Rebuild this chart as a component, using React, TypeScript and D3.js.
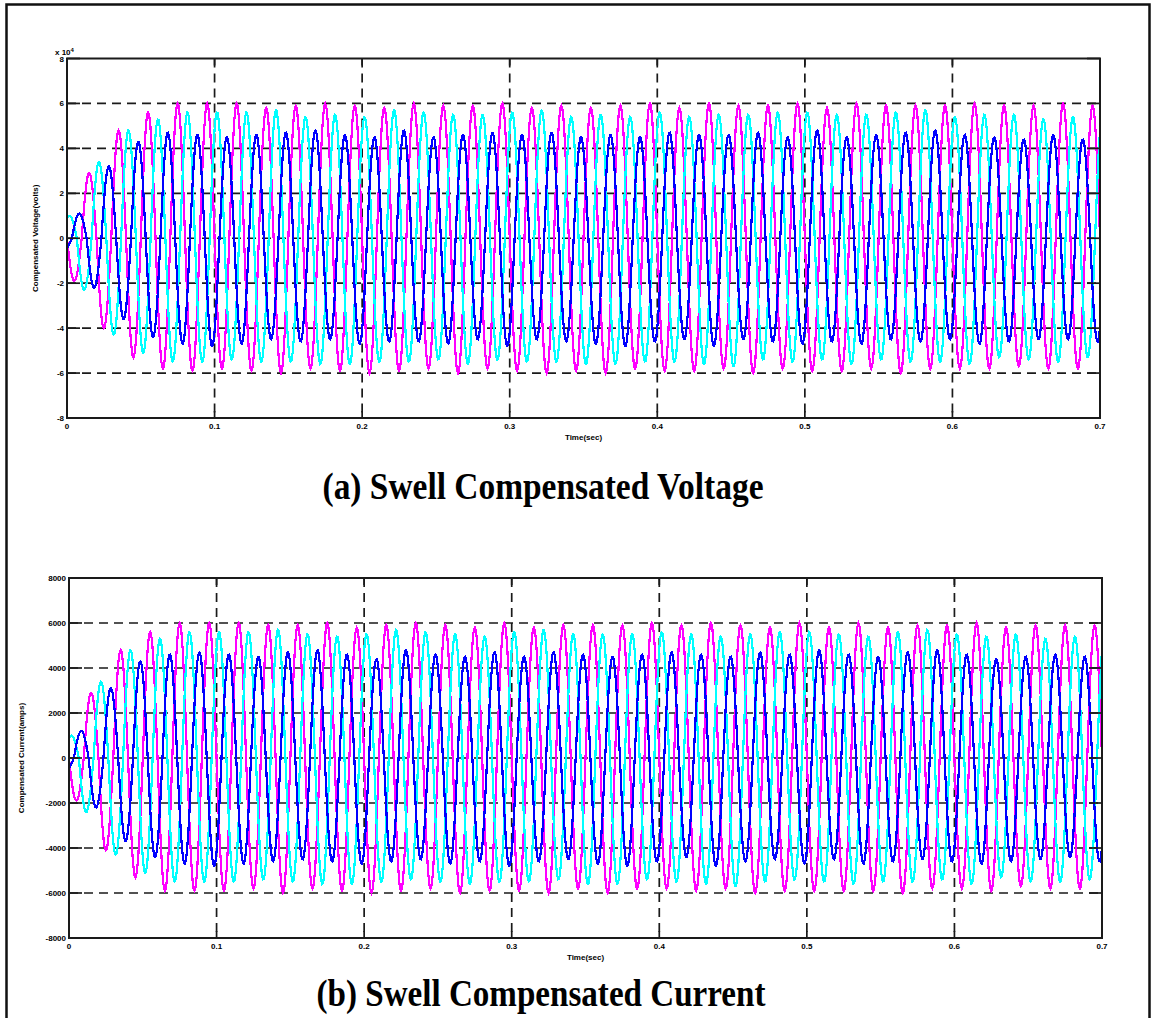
import React from "react";
import * as d3 from "d3";

// time axis (s)
const xTicks = [0, 0.1, 0.2, 0.3, 0.4, 0.5, 0.6, 0.7];
const xTickLabels = ["0", "0.1", "0.2", "0.3", "0.4", "0.5", "0.6", "0.7"];

// voltage axis (x 10^4 V)
const vTicks = [-8, -6, -4, -2, 0, 2, 4, 6, 8];
const vTickLabels = ["-8", "-6", "-4", "-2", "0", "2", "4", "6", "8"];

// current axis (A)
const iTicks = [-8000, -6000, -4000, -2000, 0, 2000, 4000, 6000, 8000];
const iTickLabels = ["-8000", "-6000", "-4000", "-2000", "0", "2000", "4000", "6000", "8000"];

// supply frequency and simulation sample rate
const freq = 50;
const sampleRate = 2000;
const tEnd = 0.7;

// peak value of each half-cycle (x 10^4 V)
const voltMagenta = [1.9, 2.9, 4.0, 4.8, 5.3, 5.6, 5.8, 6.0, 5.9, 6.0, 5.8, 6.0, 5.9, 5.8, 6.0, 5.9, 5.8, 6.0, 5.9, 5.9, 6.0, 5.8, 5.9, 6.0, 5.8, 5.9, 6.0, 5.9, 5.8, 6.0, 5.9, 5.8, 6.0, 5.9, 5.9, 5.8, 6.0, 5.9, 5.8, 6.0, 5.9, 5.8, 5.9, 6.0, 5.8, 5.9, 6.0, 5.9, 5.8, 6.0, 5.9, 5.8, 5.9, 6.0, 5.8, 5.9, 6.0, 5.9, 5.8, 5.9, 5.8, 6.0, 5.8, 5.9, 5.7, 5.9, 5.8, 6.0, 5.8, 5.9, 5.9];
const voltCyan = [1.0, 2.3, 3.4, 4.3, 4.8, 5.1, 5.3, 5.5, 5.6, 5.5, 5.6, 5.4, 5.6, 5.5, 5.7, 5.5, 5.4, 5.6, 5.5, 5.6, 5.4, 5.5, 5.7, 5.5, 5.6, 5.4, 5.5, 5.6, 5.5, 5.4, 5.6, 5.5, 5.7, 5.5, 5.4, 5.6, 5.5, 5.6, 5.4, 5.5, 5.6, 5.5, 5.4, 5.6, 5.5, 5.7, 5.5, 5.4, 5.6, 5.5, 5.6, 5.4, 5.5, 5.6, 5.5, 5.4, 5.6, 5.5, 5.7, 5.5, 5.4, 5.6, 5.5, 5.3, 5.5, 5.4, 5.3, 5.5, 5.4, 5.3, 5.5];
const voltBlue = [0.5, 1.1, 2.2, 3.2, 3.6, 4.3, 4.4, 4.7, 4.7, 4.6, 4.8, 4.5, 4.7, 4.6, 4.5, 4.7, 4.6, 4.8, 4.5, 4.6, 4.7, 4.5, 4.6, 4.8, 4.6, 4.5, 4.7, 4.6, 4.5, 4.7, 4.8, 4.6, 4.5, 4.7, 4.6, 4.5, 4.7, 4.6, 4.8, 4.5, 4.6, 4.7, 4.5, 4.6, 4.8, 4.6, 4.5, 4.7, 4.6, 4.5, 4.7, 4.8, 4.6, 4.5, 4.7, 4.6, 4.5, 4.7, 4.6, 4.8, 4.5, 4.6, 4.7, 4.5, 4.6, 4.4, 4.5, 4.6, 4.5, 4.4, 4.6];

// peak value of each half-cycle (kA)
const currMagenta = [1.9, 2.9, 4.1, 4.8, 5.3, 5.6, 5.9, 6.0, 5.9, 6.0, 5.9, 6.0, 5.8, 5.9, 6.0, 5.9, 5.8, 6.0, 5.9, 5.8, 6.0, 5.9, 5.9, 6.0, 5.8, 5.9, 6.0, 5.8, 5.9, 6.0, 5.9, 5.8, 6.0, 5.9, 5.8, 5.9, 6.0, 5.9, 5.8, 6.0, 5.8, 5.9, 5.9, 6.0, 5.8, 5.9, 6.0, 5.8, 5.9, 6.0, 5.9, 5.8, 5.9, 6.0, 5.9, 5.8, 6.0, 5.9, 5.8, 5.9, 5.8, 6.0, 5.9, 5.8, 5.7, 5.9, 5.8, 5.9, 5.8, 5.9, 5.9];
const currCyan = [1.0, 2.4, 3.4, 4.3, 4.8, 5.1, 5.3, 5.5, 5.6, 5.5, 5.6, 5.5, 5.6, 5.4, 5.7, 5.5, 5.5, 5.6, 5.4, 5.6, 5.5, 5.5, 5.7, 5.4, 5.6, 5.5, 5.5, 5.6, 5.4, 5.5, 5.6, 5.5, 5.7, 5.4, 5.5, 5.6, 5.5, 5.6, 5.5, 5.4, 5.6, 5.5, 5.5, 5.6, 5.4, 5.7, 5.5, 5.5, 5.6, 5.4, 5.6, 5.5, 5.5, 5.6, 5.4, 5.5, 5.6, 5.5, 5.7, 5.4, 5.5, 5.6, 5.4, 5.3, 5.5, 5.5, 5.3, 5.5, 5.4, 5.4, 5.5];
const currBlue = [0.5, 1.2, 2.2, 3.1, 3.7, 4.3, 4.4, 4.6, 4.7, 4.7, 4.8, 4.6, 4.7, 4.5, 4.6, 4.7, 4.5, 4.8, 4.6, 4.6, 4.7, 4.4, 4.6, 4.8, 4.5, 4.6, 4.7, 4.5, 4.6, 4.7, 4.8, 4.5, 4.6, 4.7, 4.5, 4.6, 4.7, 4.5, 4.8, 4.6, 4.6, 4.7, 4.4, 4.6, 4.8, 4.5, 4.6, 4.7, 4.5, 4.6, 4.7, 4.8, 4.5, 4.6, 4.7, 4.5, 4.6, 4.7, 4.5, 4.8, 4.6, 4.6, 4.7, 4.4, 4.6, 4.5, 4.5, 4.6, 4.4, 4.5, 4.6];

// phase offsets in half-turns (magenta, cyan, blue)
const phaseOffsets = [1, 1 / 3, -1 / 3];
const traceColors = ["#ff00ff", "#00ffff", "#0000ff"];

type Pt = { t: number; v: number };

function buildTrace(peaks: number[], offset: number, scale: number): Pt[] {
  const pts: Pt[] = [];
  const n = Math.round(tEnd * sampleRate);
  for (let i = 0; i <= n; i++) {
    const t = i / sampleRate;
    const u = 2 * freq * t + offset;
    const lobe = Math.min(Math.floor(u + 1e-9) - Math.floor(offset), peaks.length - 1);
    pts.push({ t, v: peaks[Math.max(lobe, 0)] * Math.sin(Math.PI * u) * scale });
  }
  return pts;
}

type ChartProps = {
  left: number;
  right: number;
  top: number;
  bottom: number;
  yTicks: number[];
  yTickLabels: string[];
  series: Pt[][];
  yLabel: string;
  yLabelX: number;
  exponent?: boolean;
};

function Chart({ left, right, top, bottom, yTicks, yTickLabels, series, yLabel, yLabelX, exponent }: ChartProps) {
  const x = d3.scaleLinear().domain([0, tEnd]).range([left, right]);
  const y = d3
    .scaleLinear()
    .domain([yTicks[0], yTicks[yTicks.length - 1]])
    .range([bottom, top]);
  const line = d3
    .line<Pt>()
    .x((d) => x(d.t))
    .y((d) => y(d.v));
  const axisColor = "#1a1a1a";
  const tick = 7;
  const font = "Liberation Sans, Arial, sans-serif";

  return (
    <g>
      <rect x={left} y={top} width={right - left} height={bottom - top} fill="#fff" />
      {/* dashed grid */}
      <g stroke={axisColor} strokeWidth={1.7} strokeDasharray="9,6">
        {xTicks.slice(1, -1).map((t) => (
          <line key={"gx" + t} x1={x(t)} x2={x(t)} y1={top} y2={bottom} />
        ))}
        {yTicks.slice(1, -1).map((v) => (
          <line key={"gy" + v} x1={left} x2={right} y1={y(v)} y2={y(v)} />
        ))}
      </g>
      {/* traces */}
      {series.map((s, i) => (
        <path
          key={i}
          d={line(s) || ""}
          fill="none"
          stroke={traceColors[i]}
          strokeWidth={2.2}
          shapeRendering="crispEdges"
        />
      ))}
      {/* ticks */}
      <g stroke={axisColor} strokeWidth={1.7}>
        {xTicks.map((t) => (
          <g key={"tx" + t}>
            <line x1={x(t)} x2={x(t)} y1={bottom} y2={bottom - tick} />
            <line x1={x(t)} x2={x(t)} y1={top} y2={top + tick} />
          </g>
        ))}
        {yTicks.map((v) => (
          <g key={"ty" + v}>
            <line x1={left} x2={left + tick + 6} y1={y(v)} y2={y(v)} />
            <line x1={right} x2={right - tick - 6} y1={y(v)} y2={y(v)} />
          </g>
        ))}
      </g>
      <rect
        x={left}
        y={top}
        width={right - left}
        height={bottom - top}
        fill="none"
        stroke={axisColor}
        strokeWidth={2}
      />
      {/* tick labels */}
      <g fontFamily={font} fontWeight="bold" fontSize={8} fill="#000">
        {xTicks.map((t, i) => (
          <text key={"lx" + t} x={x(t)} y={bottom + 11} textAnchor="middle">
            {xTickLabels[i]}
          </text>
        ))}
        {yTicks.map((v, i) => (
          <text key={"ly" + v} x={left - 3} y={y(v) + 3} textAnchor="end">
            {yTickLabels[i]}
          </text>
        ))}
        {exponent && (
          <text x={left - 12} y={top - 4}>
            x 10<tspan dy={-3} fontSize={6}>4</tspan>
          </text>
        )}
        <text x={(left + right) / 2} y={bottom + 22} textAnchor="middle" fontSize={8}>
          Time(sec)
        </text>
        <text
          transform={`translate(${yLabelX},${(top + bottom) / 2}) rotate(-90)`}
          textAnchor="middle"
          fontSize={8}
        >
          {yLabel}
        </text>
      </g>
    </g>
  );
}

export default function App() {
  const voltSeries = [voltMagenta, voltCyan, voltBlue].map((p, i) => buildTrace(p, phaseOffsets[i], 1));
  const currSeries = [currMagenta, currCyan, currBlue].map((p, i) => buildTrace(p, phaseOffsets[i], 1000));
  const titleFont = "Liberation Serif, Times New Roman, serif";

  return (
    <svg
      width={1157}
      height={1018}
      style={{ position: "absolute", left: 0, top: 0, background: "#fff" }}
    >
      <rect x={0} y={0} width={1157} height={1018} fill="#fff" />
      <rect x={6.5} y={4.5} width={1143} height={1030} fill="none" stroke="#111" strokeWidth={2.5} />
      <Chart
        left={67}
        right={1100}
        top={58.5}
        bottom={418}
        yTicks={vTicks}
        yTickLabels={vTickLabels}
        series={voltSeries}
        yLabel="Compensated Voltage(volts)"
        yLabelX={38}
        exponent
      />
      <text
        x={543}
        y={499}
        textAnchor="middle"
        fontFamily={titleFont}
        fontWeight="bold"
        fontSize={38}
        textLength={441}
        lengthAdjust="spacingAndGlyphs"
      >
        (a) Swell Compensated Voltage
      </text>
      <Chart
        left={69}
        right={1102}
        top={578}
        bottom={938}
        yTicks={iTicks}
        yTickLabels={iTickLabels}
        series={currSeries}
        yLabel="Compensated Current(amps)"
        yLabelX={24}
      />
      <text
        x={541}
        y={1006}
        textAnchor="middle"
        fontFamily={titleFont}
        fontWeight="bold"
        fontSize={38}
        textLength={449}
        lengthAdjust="spacingAndGlyphs"
      >
        (b) Swell Compensated Current
      </text>
    </svg>
  );
}
